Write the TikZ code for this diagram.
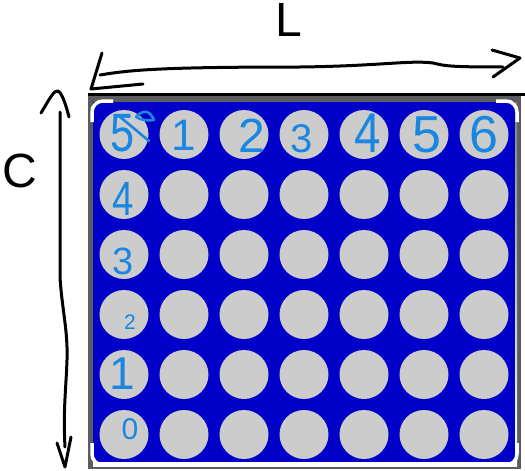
\documentclass[tikz,border=0pt]{standalone}
\usepackage{fontspec}
\usepackage{graphicx}
\setmainfont{Liberation Sans}
\definecolor{panel}{RGB}{0,0,200}
\definecolor{shade}{RGB}{0,0,110}
\definecolor{framegrey}{RGB}{92,92,96}
\definecolor{dot}{RGB}{204,204,204}
\definecolor{hand}{RGB}{25,135,225}
\begin{document}
\begin{tikzpicture}[x=1pt,y=-1pt,
  led/.style={circle, fill=dot, minimum size=49pt, inner sep=0pt},
  digit/.style={text=hand, inner sep=0pt},
  pen/.style={draw=black, line width=3pt, line cap=round, line join=round},
  bluepen/.style={draw=hand, line width=2.6pt, line cap=round, line join=round},
  bracket/.style={draw=white, line width=3.5pt, rounded corners=11pt},
  dimlabel/.style={inner sep=0pt, font=\fontsize{48}{48}\selectfont}]
\useasboundingbox (0,0) rectangle (525,471);
% module body
\fill[framegrey] (88,96) rectangle (521,469);
\fill[black] (88,93) rectangle (525,96);
\fill[shade] (93,102) rectangle (517,466);
\fill[panel] (93,102) rectangle (515,462);
% LEDs
\foreach \i in {0,...,6}
  \foreach \j in {0,...,5}
    \node[led] (c\i\j) at (124+60*\i, 134.5+60*\j) {};
% corner brackets
\draw[bracket] (92,122) -- (92,101) -- (113,101);
\draw[bracket] (496,101) -- (517,101) -- (517,122);
\draw[bracket] (92,443) -- (92,465) -- (113,465);
\draw[bracket] (496,465) -- (517,465) -- (517,443);
% top row digits
\node[digit, font=\fontsize{54}{54}\selectfont] (t0) at (123,133) {\scalebox{0.8}[1]{5}};
\node[digit, font=\fontsize{44}{44}\selectfont] (t1) at (184,135) {1};
\node[digit, font=\fontsize{48}{48}\selectfont] (t2) at (252,136) {2};
\node[digit, font=\fontsize{40}{40}\selectfont] (t3) at (302,139) {3};
\node[digit, font=\fontsize{56}{56}\selectfont] (t4) at (368,133) {\scalebox{0.85}[1]{4}};
\node[digit, font=\fontsize{52}{52}\selectfont] (t5) at (427,135) {5};
\node[digit, font=\fontsize{52}{52}\selectfont] (t6) at (484,135) {6};
% left column digits
\node[digit, font=\fontsize{48}{48}\selectfont] (l4) at (123,199) {\scalebox{0.8}[1]{4}};
\node[digit, font=\fontsize{38}{38}\selectfont] (l3) at (123,261) {3};
\node[digit, font=\fontsize{21}{21}\selectfont] (l2) at (130,322) {2};
\node[digit, font=\fontsize{46}{46}\selectfont] (l1) at (122,374) {1};
\node[digit, font=\fontsize{30}{30}\selectfont] (l0) at (130,429) {0};
% doodle on first LED
\coordinate (s1) at (119,116);
\coordinate (s2) at (149,141);
\draw[bluepen] (s1) -- (s2);
\draw[bluepen] (136,117) .. controls (139,113) and (144,111) .. (147,112)
  .. controls (150,113) and (153,117) .. (154,120)
  .. controls (148,121) and (141,120) .. (136,117);
% L dimension arrow
\coordinate (la) at (100,75);
\coordinate (lb) at (503,67);
\draw[pen] (la) .. controls (130,70) and (160,67) .. (300,67)
  .. controls (380,66) and (410,60) .. (433,63)
  .. controls (445,66) and (450,67) .. (lb);
\draw[pen] (102,53) -- (91,89) -- (143,84);
\draw[pen] (492,50) -- (520,58) -- (493,77);
\node[dimlabel] (Ltext) at (289,20) {L};
% C dimension arrow
\coordinate (ca) at (60,112);
\coordinate (cb) at (65,447);
\draw[pen] (ca) -- (60,277) .. controls (62,310) and (68,330) .. (67,360)
  .. controls (66,390) and (63,410) .. (cb);
\draw[pen] (41,113) .. controls (50,98) and (54,90) .. (58,91)
  .. controls (62,93) and (66,105) .. (69,117);
\draw[pen] (57,443) -- (65,467) -- (71,437);
\node[dimlabel] (Ctext) at (20,171) {C};
\end{tikzpicture}
\end{document}
